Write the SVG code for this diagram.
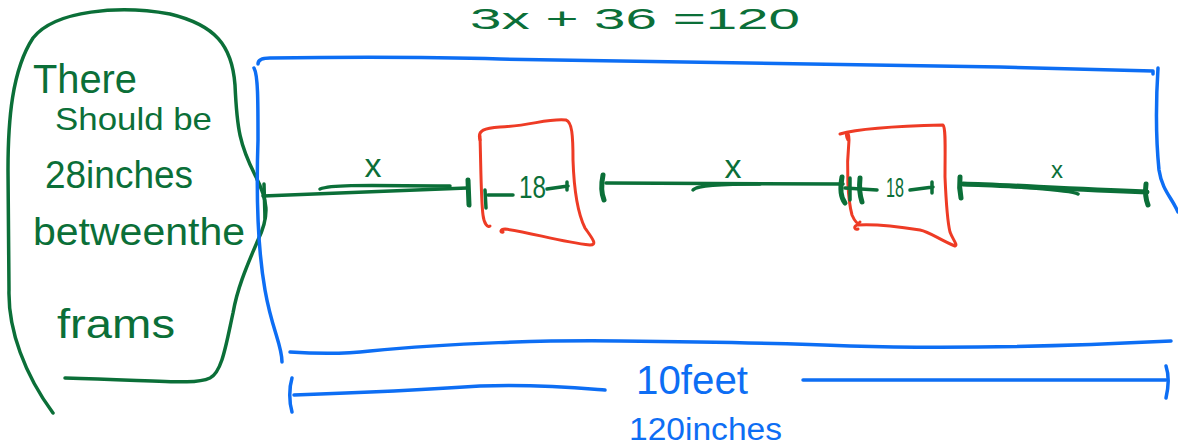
<svg xmlns="http://www.w3.org/2000/svg" width="1178" height="445" viewBox="0 0 1178 445">
<style>
.g{fill:none;stroke:#0b6f38;stroke-width:3.5;stroke-linecap:round;stroke-linejoin:round}
.gt{fill:none;stroke:#0b6f38;stroke-width:5;stroke-linecap:round}
.r{fill:none;stroke:#ee3b25;stroke-width:3;stroke-linecap:round;stroke-linejoin:round}
.b{fill:none;stroke:#0d6ef4;stroke-width:3.5;stroke-linecap:round;stroke-linejoin:round}
.tg{fill:#0b6f38;font-family:"Liberation Sans",Arial,sans-serif}
.tb{fill:#0d6ef4;font-family:"Liberation Sans",Arial,sans-serif}
</style>
<rect width="1178" height="445" fill="#ffffff"/>

<g id="equation">
<text class="tg" x="635" y="29" font-size="30" text-anchor="middle" textLength="330" lengthAdjust="spacingAndGlyphs">3x + 36 =120</text>
</g>

<g id="note">
<path class="g" d="M53,413 C25,375 8,330 9,290 L8,170 C8,120 12,70 33,38 C55,10 120,5 170,14 C215,25 232,45 235,85 C237,130 240,145 255,175 C268,200 270,215 258,240 C245,270 237,290 233,313 C226,345 222,372 210,378 C195,385 170,381 65,378"/>
<text class="tg" x="33" y="93" font-size="40" textLength="104" lengthAdjust="spacingAndGlyphs">There</text>
<text class="tg" x="55" y="130" font-size="32" textLength="157" lengthAdjust="spacingAndGlyphs">Should be</text>
<text class="tg" x="45" y="188" font-size="38" textLength="148" lengthAdjust="spacingAndGlyphs">28inches</text>
<text class="tg" x="33" y="245" font-size="38" textLength="212" lengthAdjust="spacingAndGlyphs">betweenthe</text>
<text class="tg" x="57" y="338" font-size="40" textLength="118" lengthAdjust="spacingAndGlyphs">frams</text>
</g>

<g id="wall">
<path class="b" d="M258,64 C258,60 262,58 270,58 C350,57 430,57 500,59 C600,62 800,63 1000,67 L1153,71 L1153,74"/>
<path class="b" d="M254,68 C258,75 258,100 258,140 C256,200 258,250 265,290 C272,330 282,345 282,362"/>
<path class="b" d="M1158,68 C1156,100 1156,140 1159,170 C1162,190 1172,198 1178,212"/>
<path class="b" d="M290,352 C320,354 345,354 370,351 C450,343 550,340 620,341 C720,342 780,343 850,346 C950,349 1050,347 1171,341"/>
</g>

<g id="frame1">
<path class="r" d="M480,140 C477,130 485,128 500,127 C530,126 548,118 566,120 C572,122 573,135 573,160 C574,190 577,212 585,228 C592,238 598,245 590,245 C560,242 530,232 505,229 C500,229 500,233 503,232"/>
<path class="r" d="M480,136 C481,170 481,200 483,215 C484,224 488,228 490,226"/>
</g>

<g id="frame2">
<path class="r" d="M840,134 C860,128 900,126 943,125 C946,128 945,150 945,177 C946,200 947,220 950,232 C953,240 958,245 955,246 C940,240 930,232 920,230 C895,226 870,224 857,225 C853,227 855,230 858,229"/>
<path class="r" d="M848,140 C844,133 849,129 849,140 C846,170 848,200 852,215 C855,222 858,225 860,222"/>
</g>

<g id="connectors">
<path class="g" d="M263,196 L467,188"/>
<path class="g" d="M320,189 C330,185 350,185 450,186"/>
<path class="g" d="M264,184 L265,218"/>
<path class="gt" d="M468,180 L469,205"/>
<path class="g" d="M485,190 L486,208"/>
<path class="g" d="M488,195 L513,195"/>
<path class="g" d="M547,189 L568,186 M567,182 L567,190"/>
<path class="gt" d="M603,175 C601,185 602,195 604,200"/>
<path class="g" d="M606,183 L843,184"/>
<path class="g" d="M693,190 C697,185 720,184 760,184"/>
<path class="gt" d="M842,177 C840,188 841,198 845,203"/>
<path class="g" d="M850,178 L850,200"/>
<path class="gt" d="M860,178 C859,188 860,196 862,202"/>
<path class="g" d="M845,188 L877,190"/>
<path class="g" d="M910,190 L933,187 M932,182 L932,193"/>
<path class="gt" d="M960,177 C959,186 960,193 961,198"/>
<path class="gt" d="M963,184 C1000,185 1050,188 1147,192"/>
<path class="g" d="M1007,186 C1040,189 1070,190 1078,194"/>
<path class="gt" d="M1146,184 C1145,192 1146,200 1148,205"/>
<path class="b" d="M292,378 C289,388 289,402 292,412"/>
<path class="b" d="M294,395 C380,392 450,388 480,386 C540,384 580,388 605,390"/>
<path class="b" d="M803,380 C900,379 1000,381 1166,380"/>
<path class="b" d="M1166,366 C1169,375 1169,385 1166,398"/>
</g>

<g id="labels">
<text class="tg" x="373" y="177" font-size="34" text-anchor="middle">x</text>
<text class="tg" x="733" y="178" font-size="34" text-anchor="middle">x</text>
<text class="tg" x="1057" y="178" font-size="24" text-anchor="middle">x</text>
<text class="tg" x="519" y="198" font-size="31" textLength="27" lengthAdjust="spacingAndGlyphs">18</text>
<text class="tg" x="886" y="197" font-size="27" textLength="18" lengthAdjust="spacingAndGlyphs">18</text>
<text class="tb" x="636" y="394" font-size="40" textLength="112" lengthAdjust="spacingAndGlyphs">10feet</text>
<text class="tb" x="629" y="440" font-size="31" textLength="153" lengthAdjust="spacingAndGlyphs">120inches</text>
</g>
</svg>
